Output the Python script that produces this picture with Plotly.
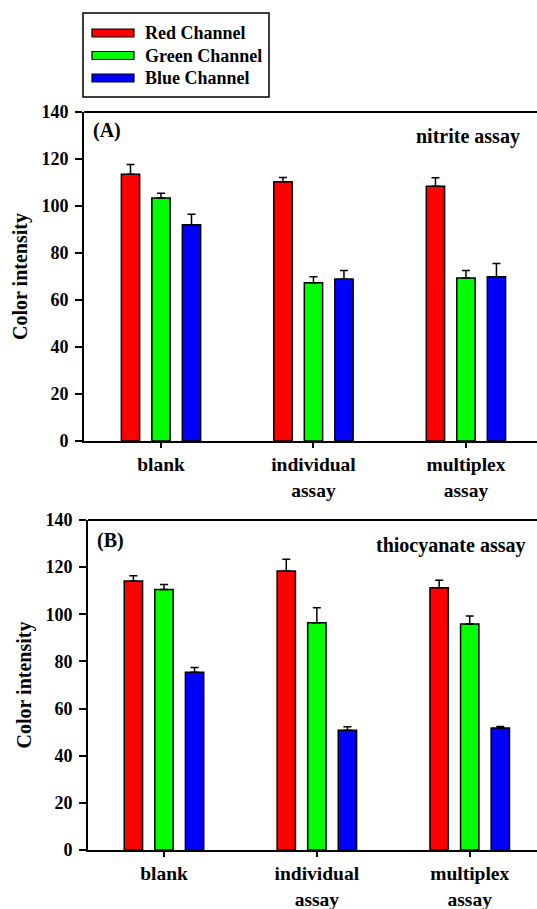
import plotly.graph_objects as go

categories = ["blank", "individual<br>assay", "multiplex<br>assay"]
channels = ["Red Channel", "Green Channel", "Blue Channel"]
colors = ["#ff0000", "#00ff00", "#0000ff"]

# Panel A: nitrite assay
nitrite_red = [113.5, 110.3, 108.4]
nitrite_green = [103.4, 67.3, 69.4]
nitrite_blue = [92.0, 68.9, 69.9]
nitrite_red_err = [4.2, 1.8, 3.6]
nitrite_green_err = [2.0, 2.6, 3.2]
nitrite_blue_err = [4.5, 3.7, 5.6]

# Panel B: thiocyanate assay
thio_red = [114.1, 118.4, 111.3]
thio_green = [110.5, 96.4, 95.9]
thio_blue = [75.4, 50.8, 51.8]
thio_red_err = [2.3, 5.0, 3.1]
thio_green_err = [2.1, 6.4, 3.4]
thio_blue_err = [2.0, 1.5, 0.6]

y_ticks = [0, 20, 40, 60, 80, 100, 120, 140]

FONT = "Liberation Serif, Times New Roman, serif"
W, H = 537, 909

fig = go.Figure()

panels = [
    ("x", "y", [nitrite_red, nitrite_green, nitrite_blue],
     [nitrite_red_err, nitrite_green_err, nitrite_blue_err]),
    ("x2", "y2", [thio_red, thio_green, thio_blue],
     [thio_red_err, thio_green_err, thio_blue_err]),
]
for xa, ya, vals, errs in panels:
    for name, col, v, e in zip(channels, colors, vals, errs):
        fig.add_trace(go.Bar(
            x=categories, y=v, name=name, xaxis=xa, yaxis=ya,
            marker=dict(color=col, line=dict(color="black", width=1.5)),
            error_y=dict(type="data", array=e, arrayminus=[0] * len(e),
                         symmetric=False, color="black", thickness=1.5, width=4),
            showlegend=False,
        ))


def ydom(top_px, bot_px):
    return [(H - bot_px) / H, (H - top_px) / H]


yA = ydom(112, 441)
yB = ydom(520, 850)
xA = [84 / W, 1]
xB = [88 / W, 1]

xtickfont = dict(family=FONT, size=19.5, color="black", weight="bold")
ytickfont = dict(family=FONT, size=18, color="black", weight="bold")
titlefont = dict(family=FONT, size=20, color="black", weight="bold")

common_x = dict(showline=True, linecolor="black", linewidth=2, ticks="outside",
                ticklen=5, tickwidth=1.5, tickcolor="black", tickfont=xtickfont,
                showgrid=False, zeroline=False, ticklabelstandoff=0, automargin=False)
common_y = dict(showline=True, linecolor="black", linewidth=2, ticks="outside",
                ticklen=7, tickwidth=1.5, tickcolor="black", tickfont=ytickfont,
                showgrid=False, zeroline=False, range=[0, 140], tickvals=y_ticks,
                title=dict(text="Color intensity", font=titlefont, standoff=8),
                ticklabelstandoff=3, automargin=False)

fig.update_layout(
    width=W, height=H,
    margin=dict(l=0, r=0, t=0, b=0, autoexpand=False),
    paper_bgcolor="white", plot_bgcolor="white",
    barmode="group", bargap=0.4, bargroupgap=0.4,
    font=dict(family=FONT, color="black", weight="bold"),
    showlegend=False,
    xaxis=dict(domain=xA, anchor="y", range=[-0.505, 2.466], **common_x),
    yaxis=dict(domain=yA, anchor="x", **common_y),
    xaxis2=dict(domain=xB, anchor="y2", range=[-0.497, 2.44], **common_x),
    yaxis2=dict(domain=yB, anchor="x2", **common_y),
)

# top frame lines
fig.add_shape(type="line", xref="paper", yref="paper", x0=xA[0], x1=1, y0=yA[1], y1=yA[1],
              line=dict(color="black", width=2))
fig.add_shape(type="line", xref="paper", yref="paper", x0=xB[0], x1=1, y0=yB[1], y1=yB[1],
              line=dict(color="black", width=2))

# panel annotations
fig.add_annotation(text="(A)", xref="paper", yref="paper", x=91 / W, y=(H - 130) / H,
                   xanchor="left", yanchor="middle", showarrow=False, font=titlefont)
fig.add_annotation(text="nitrite assay", xref="paper", yref="paper", x=522 / W, y=(H - 136) / H,
                   xanchor="right", yanchor="middle", showarrow=False, font=titlefont)
fig.add_annotation(text="(B)", xref="paper", yref="paper", x=95 / W, y=(H - 540) / H,
                   xanchor="left", yanchor="middle", showarrow=False, font=titlefont)
fig.add_annotation(text="thiocyanate assay", xref="paper", yref="paper", x=527 / W, y=(H - 545) / H,
                   xanchor="right", yanchor="middle", showarrow=False, font=titlefont)

# legend box (drawn manually)
fig.add_shape(type="rect", xref="paper", yref="paper", x0=83 / W, x1=269 / W,
              y0=(H - 97) / H, y1=(H - 13) / H, line=dict(color="black", width=1.5),
              fillcolor="white")
for i, (name, col) in enumerate(zip(channels, colors)):
    yc = 33 + i * 22.5
    fig.add_shape(type="rect", xref="paper", yref="paper", x0=92 / W, x1=134 / W,
                  y0=(H - yc - 4) / H, y1=(H - yc + 4) / H,
                  line=dict(color="black", width=1.2), fillcolor=col)
    fig.add_annotation(text=name, xref="paper", yref="paper",
                       x=143 / W, y=(H - yc) / H, xanchor="left", yanchor="middle",
                       showarrow=False, font=dict(family=FONT, size=18, color="black", weight="bold"))

fig.write_html(
    "out.html",
    config={"displayModeBar": False},
    post_script="document.body.style.margin='0';document.body.style.padding='0';"
                "document.documentElement.style.overflow='hidden';",
)
